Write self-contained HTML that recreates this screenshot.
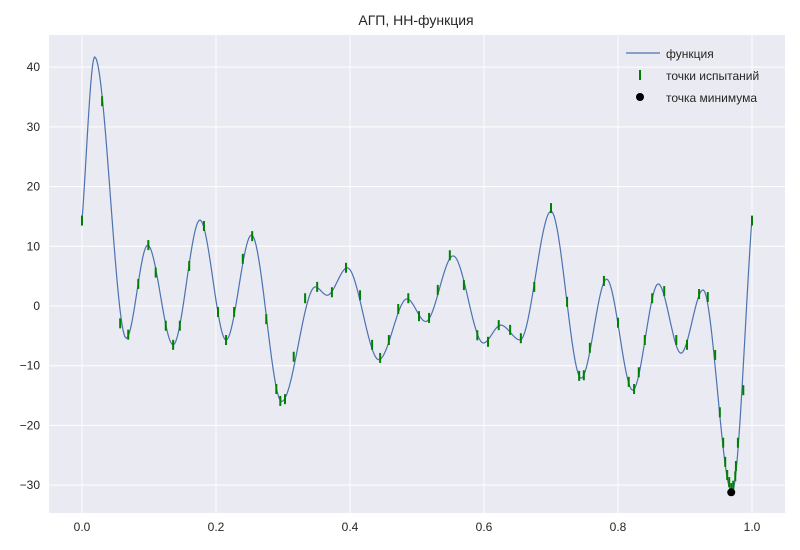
<!DOCTYPE html>
<html><head><meta charset="utf-8"><style>
body{margin:0;background:#fff}
svg{display:block;font-family:"Liberation Sans","DejaVu Sans",sans-serif}
</style></head><body>
<svg id="chart" width="800" height="550">
<text x="416" y="25" text-anchor="middle" font-size="14" fill="#262626">АГП, НН-функция</text>
<rect x="49" y="35" width="736" height="478" fill="#eaeaf2"/>
<g id="grid"></g><g id="ticks"></g>
<g id="clip"><path id="curve" fill="none" stroke="#4c72b0" stroke-width="1.2"/></g>
<g id="tests"></g><g id="minpt"></g>
<g>
<line x1="626" y1="53" x2="660" y2="53" stroke="#4c72b0" stroke-width="1.2"/>
<text x="666" y="58" font-size="12" fill="#262626">функция</text>
<rect x="639" y="70" width="2" height="10" fill="#008000"/>
<text x="666" y="80" font-size="12" fill="#262626">точки испытаний</text>
<circle cx="640" cy="97" r="4" fill="#000"/>
<text x="666" y="102" font-size="12" fill="#262626">точка минимума</text>
</g>
</svg>
<script>
const curveX=[0,.019,.066,.098,.136,.176,.215,.253,.298,.348,.366,.396,.443,.485,.513,.554,.599,.625,.654,.700,.745,.783,.822,.860,.894,.927,.970,1.0];
const curveY=[14.3,41.7,-5.4,10.2,-6.5,14.4,-5.7,11.9,-16,3.2,1.8,6.4,-9.0,1.2,-2.6,8.4,-6.2,-3.2,-5.7,15.9,-12.1,4.5,-14.1,3.7,-7.9,2.7,-31.2,14.8];
const testX=[0,.030,.057,.069,.084,.099,.110,.125,.136,.146,.160,.182,.203,.215,.227,.240,.254,.275,.290,.296,.303,.316,.333,.351,.373,.394,.415,.433,.445,.458,.472,.487,.503,.518,.531,.549,.570,.590,.606,.622,.639,.655,.675,.700,.724,.742,.749,.758,.779,.800,.816,.824,.831,.840,.851,.869,.887,.903,.921,.934,.945,.952,.957,.960,.963,.966,.969,.972,.975,.976,.979,.987,1.0];
const testY=[14.3,34.3,-2.9,-4.8,3.7,10.2,5.6,-3.3,-6.5,-3.3,6.7,13.4,-1.0,-5.7,-1.0,7.9,11.7,-2.2,-13.9,-15.9,-15.6,-8.5,1.3,3.2,2.3,6.4,1.8,-6.5,-8.7,-5.7,-0.5,1.3,-1.7,-2.0,2.7,8.5,3.5,-4.9,-6.0,-3.2,-4.0,-5.4,3.2,16.4,0.7,-11.7,-11.6,-7.0,4.2,-2.8,-12.7,-13.9,-11.1,-5.7,1.3,2.5,-5.7,-6.5,2.0,1.5,-8.2,-17.8,-22.9,-26.1,-28.3,-29.5,-30.5,-30.1,-28.5,-26.8,-22.9,-14.1,14.3];
const minX=[0.969], minY=[-31.2];
const xTicks=[0,0.2,0.4,0.6,0.8,1.0], xTickLabels=["0.0","0.2","0.4","0.6","0.8","1.0"];
const yTicks=[-30,-20,-10,0,10,20,30,40], yTickLabels=["−30","−20","−10","0","10","20","30","40"];
const X=v=>82+v*670, Y=v=>306-v*5.971;
const NS="http://www.w3.org/2000/svg";
function mk(tag,attrs,parent){const e=document.createElementNS(NS,tag);for(const k in attrs)e.setAttribute(k,attrs[k]);parent.appendChild(e);return e;}
const grid=document.getElementById('grid'),ticks=document.getElementById('ticks');
xTicks.forEach((t,i)=>{
 const l=mk('line',{x1:X(t),x2:X(t),y1:35,y2:513,stroke:'#fff','stroke-width':1},grid);
 
 
 const tx=mk('text',{x:X(t),y:531,'text-anchor':'middle','font-size':12,fill:'#262626'},ticks);
 tx.textContent=xTickLabels[i];
 
 
});
yTicks.forEach((t,i)=>{
 const l=mk('line',{x1:49,x2:785,y1:Y(t),y2:Y(t),stroke:'#fff','stroke-width':1},grid);
 
 
 const tx=mk('text',{x:40,y:Y(t)+4,'text-anchor':'end','font-size':12,fill:'#262626'},ticks);
 tx.textContent=yTickLabels[i];
 
 
});
// monotone cubic interpolation through extrema
const n=curveX.length,d=[],m=[];
for(let i=0;i<n-1;i++)d.push((curveY[i+1]-curveY[i])/(curveX[i+1]-curveX[i]));
for(let i=0;i<n;i++){
 if(i===0)m.push(d[0]);else if(i===n-1)m.push(d[n-2]);
 else m.push(d[i-1]*d[i]<=0?0:(d[i-1]+d[i])/2);
}
let p='';
for(let i=0;i<n-1;i++){
 const x0=curveX[i],x1=curveX[i+1],h=x1-x0;
 for(let k=0;k<=20;k++){
  const t=k/20,t2=t*t,t3=t2*t;
  const y=(2*t3-3*t2+1)*curveY[i]+(t3-2*t2+t)*h*m[i]+(-2*t3+3*t2)*curveY[i+1]+(t3-t2)*h*m[i+1];
  p+=(p?'L':'M')+X(x0+t*h).toFixed(2)+','+Y(y).toFixed(2);
 }
}
document.getElementById('curve').setAttribute('d',p);
const tg=document.getElementById('tests');
testX.forEach((x,i)=>{
 const r=mk('rect',{x:X(x)-1,y:Y(testY[i])-5,width:2,height:10,fill:'#008000'},tg);
 
 
});
const mg=document.getElementById('minpt');
minX.forEach((x,i)=>{
 const c=mk('circle',{cx:X(x),cy:Y(minY[i]),r:4,fill:'#000'},mg);
 
 
});
</script>
</body></html>
